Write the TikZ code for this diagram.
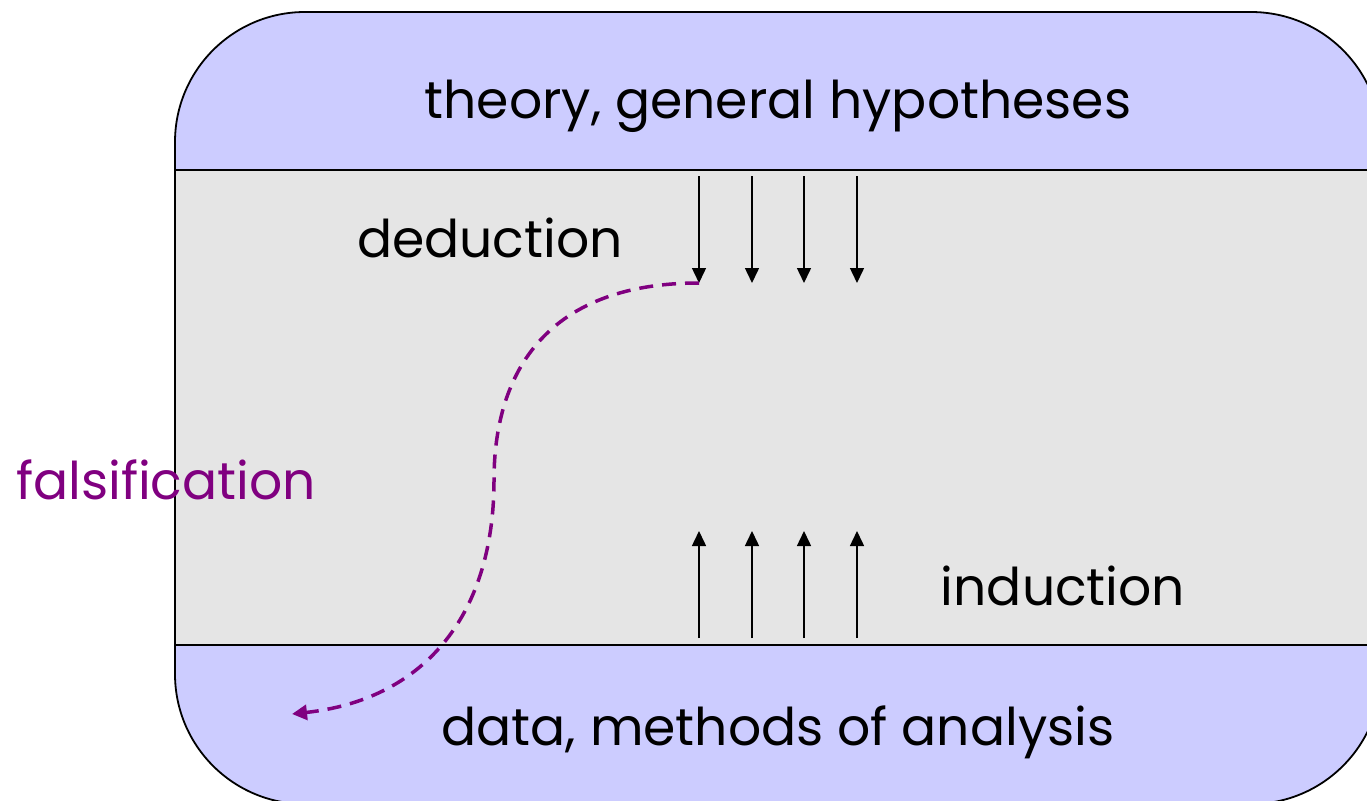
\documentclass[tikz,border=0pt]{standalone}
\usepackage{fontspec}
\setmainfont{Poppins}
\usetikzlibrary{arrows.meta}
\definecolor{lav}{HTML}{CCCCFF}
\definecolor{midgray}{HTML}{E5E5E5}
\definecolor{purp}{HTML}{800080}
\tikzset{
  lbl/.style={font=\fontsize{52}{56}\selectfont, inner sep=0pt, anchor=base},
  thinarrow/.style={line width=1.5pt, -{Triangle[length=15pt,width=14pt]}},
  band/.style={draw=black, line width=1.8pt},
}
\begin{document}
\begin{tikzpicture}[x=1pt,y=-1pt]
\useasboundingbox (0,0) rectangle (1367,800);
\begin{scope}
\clip (0,0) rectangle (1367,800);
\begin{scope}
\clip[rounded corners=130pt] (175,12) rectangle (1381,804);
\fill[lav] (175,12) rectangle (1381,170);
\fill[midgray] (175,170) rectangle (1381,645);
\fill[lav] (175,645) rectangle (1381,804);
\draw[band] (175,170) -- (1381,170);
\draw[band] (175,645) -- (1381,645);
\end{scope}
\draw[line width=1.8pt, rounded corners=130pt] (175,12) rectangle (1381,804);
\end{scope}
% labels
\node[lbl] (theory) at (778,118) {theory, general hypotheses};
\node[lbl] (deduction) at (490,257) {deduction};
\node[lbl] (induction) at (1063,605) {induction};
\node[lbl] (data) at (778,745) {data, methods of analysis};
\node[lbl, text=purp] (fals) at (166,499) {falsification};
% arrows
\foreach \i/\x in {1/699,2/752,3/804,4/857}{
  \coordinate (dt\i) at (\x,176);
  \coordinate (db\i) at (\x,283);
  \coordinate (ub\i) at (\x,638);
  \coordinate (ut\i) at (\x,531);
  \draw[thinarrow] (dt\i) -- (db\i);
  \draw[thinarrow] (ub\i) -- (ut\i);
}
\coordinate (fend) at (292,714);
\coordinate (fmid) at (494,480);
\draw[purp, line width=3.5pt, dash pattern=on 14pt off 9pt, -{Triangle[length=15pt,width=15pt]}]
  (db1) .. controls (540,283) and (494,380) .. (fmid)
  .. controls (494,620) and (420,700) .. (fend);
\end{tikzpicture}
\end{document}
